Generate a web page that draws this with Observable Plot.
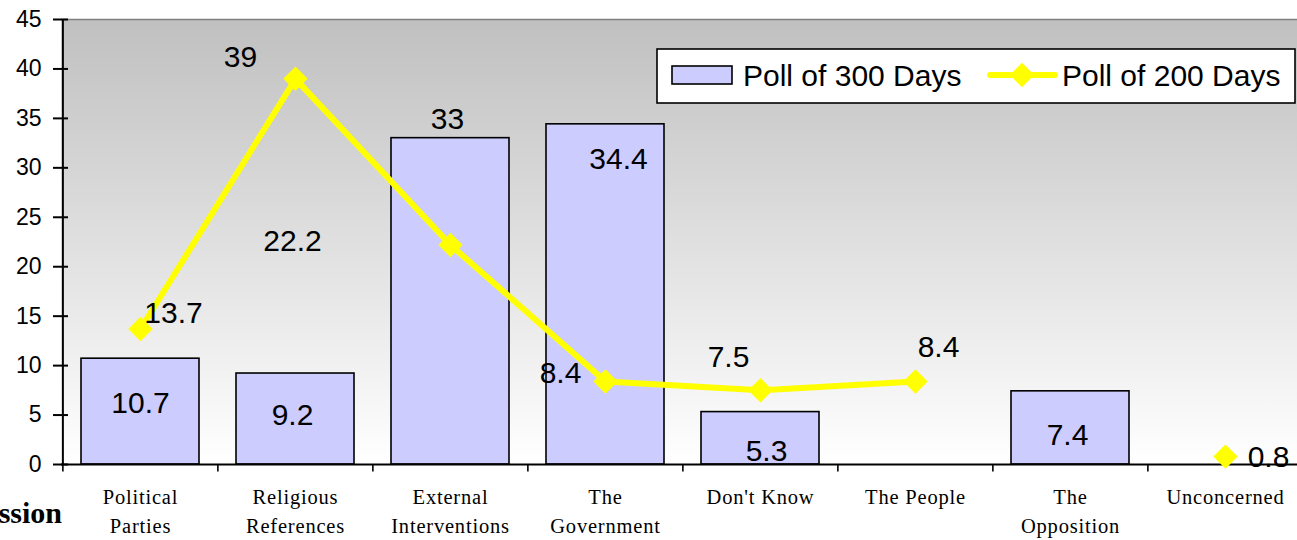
<!DOCTYPE html>
<html><head><meta charset="utf-8">
<script src="https://cdn.jsdelivr.net/npm/d3@7"></script>
<script src="https://cdn.jsdelivr.net/npm/@observablehq/plot@0.6"></script>
<style>html,body{margin:0;padding:0;background:#fff}svg{display:block}</style>
</head><body><div id="chart"></div>
<script>
// ---- data ----
const categories = ["Political Parties","Religious References","External Interventions","The Government","Don't Know","The People","The Opposition","Unconcerned"];
const categoryLabels = ["Political\nParties","Religious\nReferences","External\nInterventions","The\nGovernment","Don't Know","The People","The\nOpposition","Unconcerned"];
const poll300 = [10.7, 9.2, 33, 34.4, 5.3, null, 7.4, null];
const poll200 = [13.7, 39, 22.2, 8.4, 7.5, 8.4, null, 0.8];
const yTicks = [0, 5, 10, 15, 20, 25, 30, 35, 40, 45];
const seriesNames = ["Poll of 300 Days", "Poll of 200 Days"];
const sideTitle = "ssion";

// ---- label placement (style, px offsets from the data point) ----
const barLabelOffsets = [[0,45],[-3,42],[-3,-19],[13,35],[6,39],[0,0],[-3,44],[0,0]];
const lineLabelOffsets = [[33,-16],[-55,-21],[-158,-4],[-45,-8],[-32,-33],[23,-34],[0,0],[43,1]];

const W = 1297, H = 540, mL = 61, mT = 19, mB = 76;
const n = categories.length;
const step = 155.25;
const rows = categories.map((c, i) => ({cat: c, v300: poll300[i], v200: poll200[i], label: categoryLabels[i], i}));

const sans = "'Liberation Sans', Arial, sans-serif";
const serif = "'Liberation Serif', 'Times New Roman', serif";

const barLabelMarks = rows.filter(d => d.v300 != null).map(d =>
  Plot.text([d], {x: "cat", y: "v300", text: d => String(d.v300), dx: barLabelOffsets[d.i][0], dy: barLabelOffsets[d.i][1],
    fontSize: 30, fontFamily: sans, fill: "black", textAnchor: "middle", lineAnchor: "middle"}));
const lineLabelMarks = rows.filter(d => d.v200 != null).map(d =>
  Plot.text([d], {x: "cat", y: "v200", text: d => String(d.v200), dx: lineLabelOffsets[d.i][0], dy: lineLabelOffsets[d.i][1],
    fontSize: 30, fontFamily: sans, fill: "black", textAnchor: "middle", lineAnchor: "middle"}));

const chart = Plot.plot({
  width: W, height: H,
  marginLeft: mL, marginRight: 0, marginTop: mT, marginBottom: mB,
  style: {fontFamily: sans, background: "white", overflow: "visible"},
  x: {domain: categories, range: [mL, mL + step * n], paddingInner: 0.24, paddingOuter: 0.12, axis: null},
  y: {domain: [0, 45], axis: null},
  marks: [
    Plot.frame({fill: "url(#bggrad)", stroke: null}),
    Plot.ruleY([45], {stroke: "#808080", strokeWidth: 1.5}),
    Plot.barY(rows.filter(d => d.v300 != null), {x: "cat", y: "v300", fill: "#ccccff", stroke: "black", strokeWidth: 1.6}),
    Plot.ruleY([0], {stroke: "black", strokeWidth: 2}),
    Plot.ruleX([categories[0]], {y1: 0, y2: 45, dx: -step / 2, stroke: "black", strokeWidth: 2}),
    Plot.ruleX(categories, {y1: 0, y2: -0.75, dx: -step / 2, stroke: "black", strokeWidth: 1.6}),
    Plot.axisY({ticks: yTicks, tickSize: 15, dx: 7, tickFormat: () => "", strokeWidth: 2, label: null}),
    Plot.text(yTicks, {y: d => d, text: d => String(d), frameAnchor: "left", dx: -20, textAnchor: "end", lineAnchor: "middle",
      fontSize: 23, fontFamily: sans, fill: "black"}),
    Plot.text(rows, {x: "cat", text: "label", frameAnchor: "bottom", dy: 18, lineAnchor: "top", textAnchor: "middle",
      fontSize: 20.5, fontFamily: serif, lineHeight: 1.45, fill: "black"}),
    Plot.lineY(rows, {x: "cat", y: "v200", stroke: "#ffff00", strokeWidth: 6}),
    Plot.dot(rows.filter(d => d.v200 != null), {x: "cat", y: "v200", symbol: "diamond2", r: 11, fill: "#ffff00", stroke: "none"}),
    ...barLabelMarks,
    ...lineLabelMarks
  ]
});

const svg = d3.select(chart);
const defs = svg.insert("defs", ":first-child");
const g = defs.append("linearGradient").attr("id", "bggrad").attr("x1", 0).attr("y1", 0).attr("x2", 0).attr("y2", 1);
g.append("stop").attr("offset", "0%").attr("stop-color", "#c0c0c0");
g.append("stop").attr("offset", "100%").attr("stop-color", "#ffffff");

svg.selectAll('g[font-family*="Liberation Serif"]').attr("letter-spacing", "0.8px");

// side title (cut off at the left edge)
svg.append("text").attr("x", 62).attr("y", 523).attr("text-anchor", "end")
  .attr("font-family", serif).attr("font-weight", "bold").attr("font-size", 30).attr("fill", "black").text(sideTitle);

// legend
const lg = svg.append("g").attr("text-anchor", "start");
lg.append("rect").attr("x", 657).attr("y", 49).attr("width", 638).attr("height", 54).attr("fill", "white").attr("stroke", "black").attr("stroke-width", 1.6);
lg.append("rect").attr("x", 672).attr("y", 66).attr("width", 60).attr("height", 18).attr("fill", "#ccccff").attr("stroke", "black").attr("stroke-width", 1.6);
lg.append("text").attr("x", 743).attr("y", 86).attr("text-anchor", "start").attr("font-family", sans).attr("font-size", 30).attr("fill", "black").text(seriesNames[0]);
lg.append("line").attr("x1", 990).attr("x2", 1055).attr("y1", 75).attr("y2", 75).attr("stroke", "#ffff00").attr("stroke-width", 6).attr("stroke-linecap", "round");
lg.append("path").attr("d", d3.symbol(d3.symbolDiamond2, Math.PI * 11 * 11)()).attr("transform", "translate(1022,75)").attr("fill", "#ffff00");
lg.append("text").attr("x", 1062).attr("y", 86).attr("text-anchor", "start").attr("font-family", sans).attr("font-size", 30).attr("fill", "black").text(seriesNames[1]);

document.getElementById("chart").appendChild(chart);
</script>
</body></html>
